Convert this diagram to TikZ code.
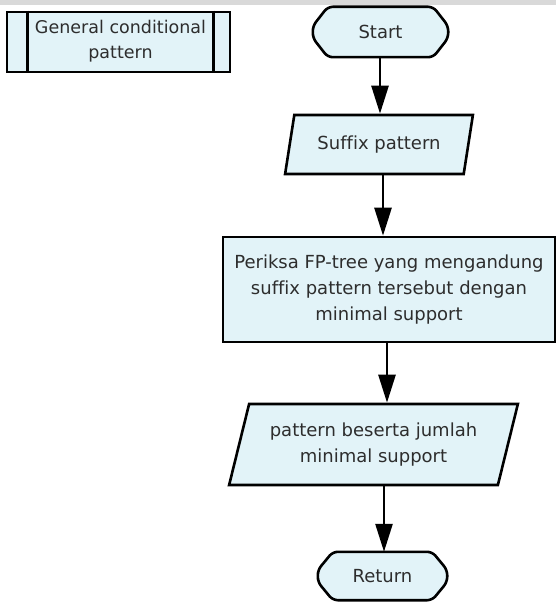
\documentclass[tikz,border=0pt]{standalone}
\usepackage{fontspec}
\setmainfont[Ligatures=NoCommon]{DejaVu Sans}
\usetikzlibrary{shapes.geometric,arrows.meta,calc,backgrounds}

\definecolor{boxfill}{RGB}{226,243,248}
\definecolor{inkgrey}{RGB}{45,45,45}
\definecolor{stripgrey}{RGB}{217,217,217}

% rounded terminal outline drawn around a named (invisible) node
\newcommand{\termoutline}[1]{%
  \begin{scope}[on background layer]
    \draw[line width=2.6pt, fill=boxfill, rounded corners=5pt]
      ($(#1.north west)+(15,0)$) -- ($(#1.north east)+(-15,0)$)
      -- ($(#1.east)+(0,-6)$) -- ($(#1.east)+(0,6)$)
      -- ($(#1.south east)+(-15,0)$) -- ($(#1.south west)+(15,0)$)
      -- ($(#1.west)+(0,6)$) -- ($(#1.west)+(0,-6)$) -- cycle;
  \end{scope}}

\begin{document}
\begin{tikzpicture}[x=1pt,y=-1pt,
  every node/.style={font=\fontsize{18}{26}\selectfont, text=inkgrey, align=center, inner sep=0pt},
  termnode/.style={minimum width=#1, minimum height=50pt},
  procbox/.style={draw=black, line width=2.6pt, fill=boxfill},
  iobox/.style={trapezium, trapezium left angle=69, trapezium right angle=111,
    trapezium stretches=true, draw=black, line width=2.6pt, fill=boxfill},
  flow/.style={line width=2.6pt, -{Triangle[length=28pt,width=17pt]}},
]
\useasboundingbox (0,0) rectangle (556,612);
\fill[stripgrey] (0,0) rectangle (556,5);

% predefined process box
\node[procbox, minimum width=223pt, minimum height=60pt] (gcp) at (118.5,42) {};
\draw[line width=2.6pt] ($(gcp.north west)+(22,0)$) -- ($(gcp.south west)+(22,0)$);
\draw[line width=2.6pt] ($(gcp.north east)+(-18,0)$) -- ($(gcp.south east)+(-18,0)$);
\node[font=\fontsize{17.5}{25}\selectfont] (gcptext) at (120.5,41) {General conditional\\pattern};

% main flow
\node[termnode=135pt] (start) at (380.5,32) {Start};
\termoutline{start}

\node[iobox, minimum width=188pt, minimum height=59pt] (suffix) at (379,144.5) {Suffix pattern};

\node[procbox, minimum width=332pt, minimum height=105pt] (check) at (389,289.5)
  {Periksa FP-tree yang mengandung\\suffix pattern tersebut dengan\\minimal support};

\node[iobox, minimum width=289pt, minimum height=81pt] (result) at (373.5,444.5)
  {pattern beserta jumlah\\minimal support};

\node[termnode=129pt, minimum height=48pt] (ret) at (382.5,576) {Return};
\termoutline{ret}

% connectors
\coordinate (colA) at (380,0);
\coordinate (colB) at (383,0);
\coordinate (colC) at (387,0);
\coordinate (colD) at (384,0);
\draw[flow] (start.south -| colA) -- (suffix.north -| colA);
\draw[flow] (suffix.south -| colB) -- (check.north -| colB);
\draw[flow] (check.south -| colC) -- (result.north -| colC);
\draw[flow] (result.south -| colD) -- (ret.north -| colD);
\end{tikzpicture}
\end{document}
